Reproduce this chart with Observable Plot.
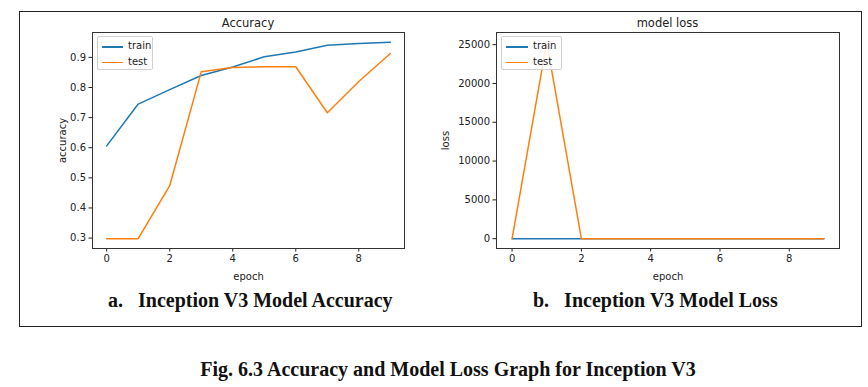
<!DOCTYPE html>
<html>
<head>
<meta charset="utf-8">
<script src="https://cdn.jsdelivr.net/npm/d3@7"></script>
<script src="https://cdn.jsdelivr.net/npm/@observablehq/plot@0.6"></script>
<style>
  html, body { margin: 0; padding: 0; background: #fff; }
  #root { position: relative; width: 868px; height: 387px; overflow: hidden; background: #fff; }
  .abs { position: absolute; }
  .frame { position: absolute; left: 19px; top: 11px; width: 843px; height: 316px; border: 1.3px solid #222; box-sizing: border-box; }
  .cap { position: absolute; font-family: "Liberation Serif", "Times New Roman", serif; font-weight: bold; font-size: 20px; color: #111; white-space: pre; line-height: 1; }
  .legend { position: absolute; background: rgba(255,255,255,0.85); border: 1px solid #d0d0d0; border-radius: 2px; box-sizing: border-box; font-family: "DejaVu Sans", sans-serif; font-size: 10px; color: #222; }
  .legend .row { position: absolute; left: 0; height: 12px; line-height: 12px; }
  .legend .sw { position: absolute; height: 1.6px; }
  .legend .lb { position: absolute; top: 0; }
  .ttl { position: absolute; font-family: "DejaVu Sans", sans-serif; font-size: 11.5px; color: #222; transform: translateX(-50%); white-space: nowrap; }
</style>
</head>
<body>
<div id="root"></div>
<script>
// ---- data ----
const epochs = [0, 1, 2, 3, 4, 5, 6, 7, 8, 9];
const accTrain = [0.606, 0.745, 0.793, 0.840, 0.868, 0.902, 0.918, 0.940, 0.946, 0.950];
const accTest  = [0.298, 0.298, 0.474, 0.852, 0.866, 0.869, 0.869, 0.716, 0.820, 0.913];
const lossTrain = [1.32, 0.71, 0.58, 0.49, 0.42, 0.35, 0.31, 0.26, 0.23, 0.21];
const lossTest  = [2.10, 25300, 3.40, 1.25, 0.98, 0.91, 1.05, 1.60, 1.12, 0.64];
const seriesNames = ["train", "test"];
const seriesColors = ["#1f77b4", "#ff7f0e"];
const xTicks = [0, 2, 4, 6, 8];
const accTicks = [0.3, 0.4, 0.5, 0.6, 0.7, 0.8, 0.9];
const lossTicks = [0, 5000, 10000, 15000, 20000, 25000];
const panelTitles = ["Accuracy", "model loss"];
const yLabels = ["accuracy", "loss"];
const xLabel = "epoch";
const subCaptions = ["a.   Inception V3 Model Accuracy", "b.   Inception V3 Model Loss"];
const figCaption = "Fig. 6.3 Accuracy and Model Loss Graph for Inception V3";

const root = document.getElementById("root");

function pad(extent) {
  const [a, b] = extent; const d = (b - a) * 0.05; return [a - d, b + d];
}

function makePanel(opts) {
  const {left, width, mL, mR, train, test, yTicks, yFmt, yLabel, yLabelOffset, title, legendBox} = opts;
  const height = 290, mT = 32, mB = 42;
  const tr = epochs.map((e, i) => ({epoch: e, v: train[i]}));
  const te = epochs.map((e, i) => ({epoch: e, v: test[i]}));
  const all = train.concat(test);
  const svg = Plot.plot({
    width, height,
    marginLeft: mL, marginRight: mR, marginTop: mT, marginBottom: mB,
    style: {fontFamily: "DejaVu Sans, sans-serif", fontSize: "10px", color: "#222", background: "transparent", overflow: "visible"},
    x: {domain: pad([0, 9]), ticks: xTicks, tickFormat: d => String(d), label: xLabel, labelArrow: "none", labelAnchor: "center", labelOffset: 31, tickSize: 3.5, tickPadding: 3},
    y: {domain: pad(d3.extent(all)), ticks: yTicks, tickFormat: yFmt, label: yLabel, labelArrow: "none", labelAnchor: "center", labelOffset: yLabelOffset, tickSize: 3.5, tickPadding: 3},
    marks: [
      Plot.frame({stroke: "#333", strokeWidth: 1}),
      Plot.line(tr, {x: "epoch", y: "v", stroke: seriesColors[0], strokeWidth: 1.5}),
      Plot.line(te, {x: "epoch", y: "v", stroke: seriesColors[1], strokeWidth: 1.5})
    ]
  });
  svg.classList.add("abs");
  svg.style.left = left + "px";
  svg.style.top = "0px";
  root.appendChild(svg);

  const t = document.createElement("div");
  t.className = "ttl";
  t.textContent = title;
  t.style.left = (left + mL + (width - mL - mR) / 2) + "px";
  t.style.top = "16px";
  root.appendChild(t);

  const lg = document.createElement("div");
  lg.className = "legend";
  lg.style.left = legendBox.x + "px";
  lg.style.top = "36px";
  lg.style.width = legendBox.w + "px";
  lg.style.height = "34px";
  seriesNames.forEach((n, i) => {
    const row = document.createElement("div");
    row.className = "row";
    row.style.top = (3 + i * 15.5) + "px";
    row.style.width = "100%";
    const sw = document.createElement("div");
    sw.className = "sw";
    sw.style.background = seriesColors[i];
    sw.style.left = "4px"; sw.style.width = legendBox.sw + "px"; sw.style.top = "6px";
    const lb = document.createElement("div");
    lb.className = "lb";
    lb.textContent = n;
    lb.style.left = (legendBox.sw + 9) + "px";
    row.appendChild(sw); row.appendChild(lb);
    lg.appendChild(row);
  });
  root.appendChild(lg);
}

const frame = document.createElement("div");
frame.className = "frame";
root.appendChild(frame);

makePanel({left: 0, width: 430, mL: 92, mR: 26, train: accTrain, test: accTest, yTicks: accTicks,
  yFmt: d3.format(".1f"), yLabel: yLabels[0], yLabelOffset: 34, title: panelTitles[0], legendBox: {x: 97, w: 56, sw: 21}});
makePanel({left: 430, width: 438, mL: 66, mR: 29, train: lossTrain, test: lossTest, yTicks: lossTicks,
  yFmt: d3.format("d"), yLabel: yLabels[1], yLabelOffset: 55, title: panelTitles[1], legendBox: {x: 501, w: 61, sw: 22}});

function cap(text, left, top) {
  const c = document.createElement("div");
  c.className = "cap";
  c.textContent = text;
  c.style.left = left + "px";
  c.style.top = top + "px";
  root.appendChild(c);
  return c;
}
cap(subCaptions[0], 108, 290);
cap(subCaptions[1], 533, 290);
const fc = cap(figCaption, 0, 359);
fc.style.left = "448px";
fc.style.transform = "translateX(-50%)";
</script>
</body>
</html>
